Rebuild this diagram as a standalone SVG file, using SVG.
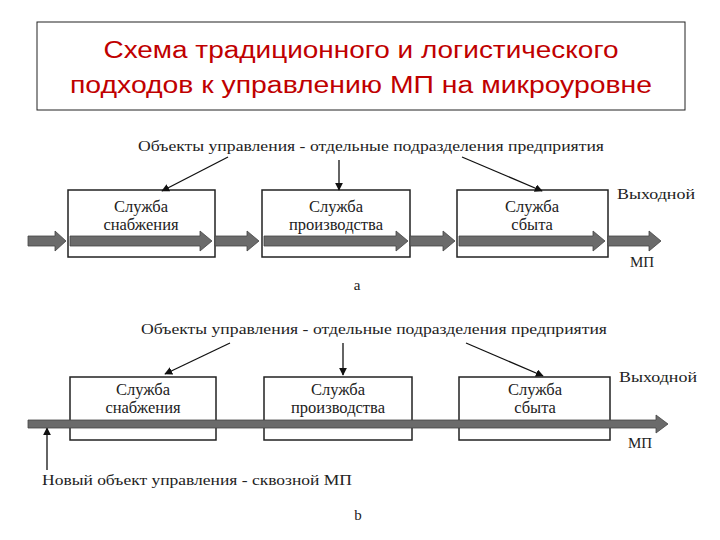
<svg xmlns="http://www.w3.org/2000/svg" width="720" height="540" viewBox="0 0 720 540">
<defs>
<style>
.t{font-family:"Liberation Serif",serif;font-size:15px;fill:#222}
.c{text-anchor:middle;font-size:16.5px}
.box{fill:#fff;stroke:#222;stroke-width:1.5}
.thin{stroke:#111;stroke-width:1.3;fill:none}
.band{fill:#6b6b6b;stroke:#444;stroke-width:0.8}
.ti{font-family:"Liberation Sans",sans-serif;font-size:23px;fill:#c00000;text-anchor:middle}
</style>
<marker id="ah" viewBox="0 0 10 10" refX="9" refY="5" markerWidth="8" markerHeight="8" orient="auto" markerUnits="userSpaceOnUse"><path d="M0,0L10,5L0,10z" fill="#111"/></marker>
</defs>
<rect width="720" height="540" fill="#fff"/>
<g id="title">
<rect x="37" y="22" width="648" height="88" fill="#fff" stroke="#222" stroke-width="1"/>
<text class="ti" x="361" y="58" textLength="515" lengthAdjust="spacingAndGlyphs">Схема традиционного и логистического</text>
<text class="ti" x="361" y="93" textLength="582" lengthAdjust="spacingAndGlyphs">подходов к управлению МП на микроуровне</text>
</g>
<g id="a-label"><text class="t" x="138" y="151" textLength="466" lengthAdjust="spacingAndGlyphs">Объекты управления - отдельные подразделения предприятия</text></g>
<g id="a-box1"><rect class="box" x="68" y="190" width="147" height="67"/><text class="t c" x="141" y="212">Служба</text><text class="t c" x="141" y="230">снабжения</text></g>
<g id="a-box2"><rect class="box" x="262" y="190" width="148" height="67"/><text class="t c" x="336" y="212">Служба</text><text class="t c" x="336" y="230">производства</text></g>
<g id="a-box3"><rect class="box" x="457" y="190" width="151" height="67"/><text class="t c" x="532" y="212">Служба</text><text class="t c" x="532" y="230">сбыта</text></g>
<g id="a-out"><text class="t" x="617" y="199" textLength="78" lengthAdjust="spacingAndGlyphs">Выходной</text><text class="t" x="630" y="267">МП</text><text class="t" x="357" y="290" text-anchor="middle">a</text></g>
<g id="connectors">
<line class="thin" x1="228" y1="157" x2="162" y2="191" marker-end="url(#ah)"/>
<line class="thin" x1="339" y1="160" x2="339" y2="190" marker-end="url(#ah)"/>
<line class="thin" x1="462" y1="157" x2="542" y2="191" marker-end="url(#ah)"/>
<path class="band" d="M28,236H55V231L66,241L55,251V246H28Z"/>
<path class="band" d="M70,236H200V231L212,241L200,251V246H70Z"/>
<path class="band" d="M215,236H247V231L259,241L247,251V246H215Z"/>
<path class="band" d="M264,236H396V231L408,241L396,251V246H264Z"/>
<path class="band" d="M410,236H443V231L455,241L443,251V246H410Z"/>
<path class="band" d="M459,236H593V231L605,241L593,251V246H459Z"/>
<path class="band" d="M608,236H649V231L661,241L649,251V246H608Z"/>
<line class="thin" x1="230" y1="343" x2="165" y2="374" marker-end="url(#ah)"/>
<line class="thin" x1="343" y1="343" x2="343" y2="375" marker-end="url(#ah)"/>
<line class="thin" x1="466" y1="343" x2="543" y2="376" marker-end="url(#ah)"/>
<line class="thin" x1="47" y1="470" x2="47" y2="428" marker-end="url(#ah)"/>
</g>
<g id="b-label"><text class="t" x="141" y="334" textLength="466" lengthAdjust="spacingAndGlyphs">Объекты управления - отдельные подразделения предприятия</text></g>
<g id="b-box1"><rect class="box" x="70" y="377" width="146" height="63"/><text class="t c" x="143" y="395">Служба</text><text class="t c" x="143" y="413">снабжения</text></g>
<g id="b-box2"><rect class="box" x="264" y="377" width="148" height="63"/><text class="t c" x="338" y="395">Служба</text><text class="t c" x="338" y="413">производства</text></g>
<g id="b-box3"><rect class="box" x="459" y="377" width="151" height="63"/><text class="t c" x="535" y="395">Служба</text><text class="t c" x="535" y="413">сбыта</text></g>
<g id="b-band"><path class="band" d="M28,420H656V415L668,424L656,433V428H28Z"/></g>
<g id="b-out"><text class="t" x="619" y="382" textLength="78" lengthAdjust="spacingAndGlyphs">Выходной</text><text class="t" x="628" y="448">МП</text></g>
<g id="b-new"><text class="t" x="42" y="485" textLength="310" lengthAdjust="spacingAndGlyphs">Новый объект управления - сквозной МП</text><text class="t" x="358" y="520" text-anchor="middle">b</text></g>
</svg>
